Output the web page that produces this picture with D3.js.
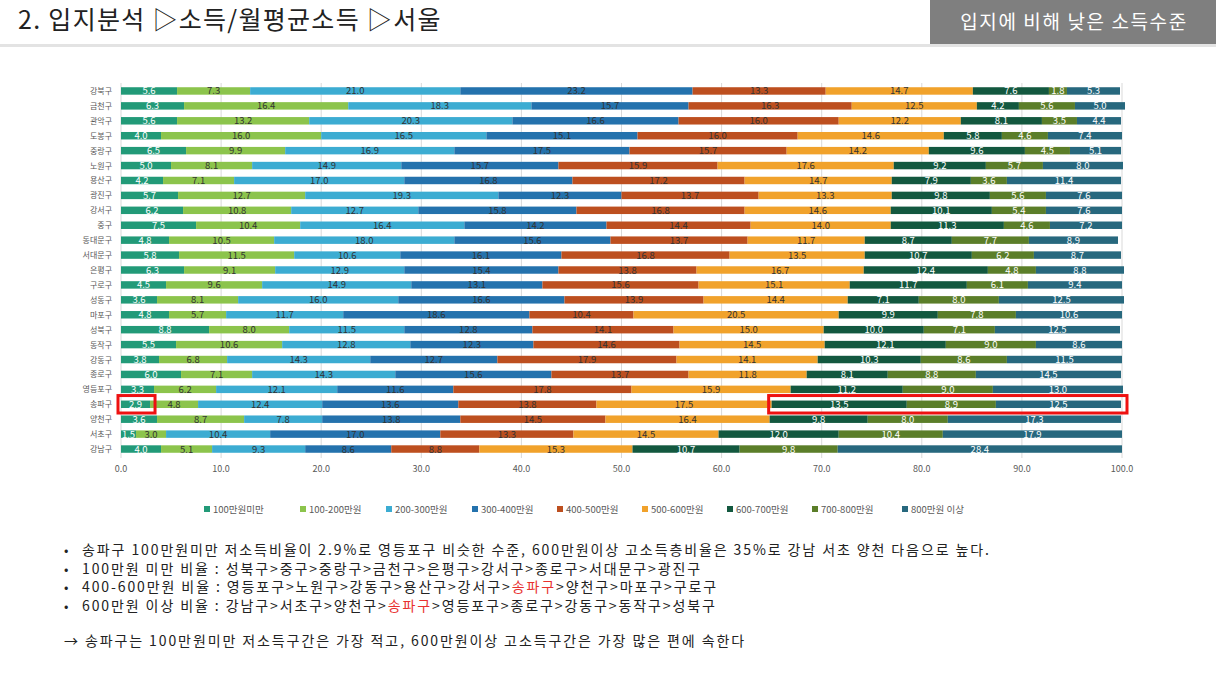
<!DOCTYPE html>
<html><head><meta charset="utf-8">
<script src="https://cdn.jsdelivr.net/npm/d3@7"></script>
<style>body{margin:0;background:#fff;font-family:"Noto Sans CJK KR","Noto Sans",sans-serif;}</style>
</head><body>
<svg id="c" width="1216" height="684"></svg>
<script>
const districts=["강북구","금천구","관악구","도봉구","중랑구","노원구","용산구","광진구","강서구","중구","동대문구","서대문구","은평구","구로구","성동구","마포구","성북구","동작구","강동구","종로구","영등포구","송파구","양천구","서초구","강남구"];
const seriesNames=["100만원미만","100-200만원","200-300만원","300-400만원","400-500만원","500-600만원","600-700만원","700-800만원","800만원 이상"];
const s100=[5.6,6.3,5.6,4.0,6.5,5.0,4.2,5.7,6.2,7.5,4.8,5.8,6.3,4.5,3.6,4.8,8.8,5.5,3.8,6.0,3.3,2.9,3.6,1.5,4.0];
const s200=[7.3,16.4,13.2,16.0,9.9,8.1,7.1,12.7,10.8,10.4,10.5,11.5,9.1,9.6,8.1,5.7,8.0,10.6,6.8,7.1,6.2,4.8,8.7,3.0,5.1];
const s300=[21.0,18.3,20.3,16.5,16.9,14.9,17.0,19.3,12.7,16.4,18.0,10.6,12.9,14.9,16.0,11.7,11.5,12.8,14.3,14.3,12.1,12.4,7.8,10.4,9.3];
const s400=[23.2,15.7,16.6,15.1,17.5,15.7,16.8,12.3,15.8,14.2,15.6,16.1,15.4,13.1,16.6,18.6,12.8,12.3,12.7,15.6,11.6,13.6,13.8,17.0,8.6];
const s500=[13.3,16.3,16.0,16.0,15.7,15.9,17.2,13.7,16.8,14.4,13.7,16.8,13.8,15.6,13.9,10.4,14.1,14.6,17.9,13.7,17.8,13.8,14.5,13.3,8.8];
const s600=[14.7,12.5,12.2,14.6,14.2,17.6,14.7,13.3,14.6,14.0,11.7,13.5,16.7,15.1,14.4,20.5,15.0,14.5,14.1,11.8,15.9,17.5,16.4,14.5,15.3];
const s700=[7.6,4.2,8.1,5.8,9.6,9.2,7.9,9.8,10.1,11.3,8.7,10.7,12.4,11.7,7.1,9.9,10.0,12.1,10.3,8.1,11.2,13.5,9.8,12.0,10.7];
const s800=[1.8,5.6,3.5,4.6,4.5,5.7,3.6,5.6,5.4,4.6,7.7,6.2,4.8,6.1,8.0,7.8,7.1,9.0,8.6,8.8,9.0,8.9,8.0,10.4,9.8];
const s900=[5.3,5.0,4.4,7.4,5.1,8.0,11.4,7.6,7.6,7.2,8.9,8.7,8.8,9.4,12.5,10.6,12.5,8.6,11.5,14.5,13.0,12.5,17.3,17.9,28.4];
const xTicks=[0,10,20,30,40,50,60,70,80,90,100];
const allSeries=[s100,s200,s300,s400,s500,s600,s700,s800,s900];
const colors=["#229a78","#8cc44c","#3cacd2","#2472ad","#bd4f1f","#f1a22b","#13583f","#5b7e29","#27687e"];
const labelCol=["#fff","#333","#333","#333","#333","#333","#fff","#fff","#fff"];

const svg=d3.select("#c");
svg.append("text").attr("x",18).attr("y",29).attr("font-size",25).attr("letter-spacing",1.3).attr("fill","#222").text("2. 입지분석 ▷소득/월평균소득 ▷서울");
svg.append("rect").attr("x",0).attr("y",44).attr("width",1216).attr("height",3).attr("fill","#e3e3e3");
svg.append("rect").attr("x",930).attr("y",0).attr("width",286).attr("height",44).attr("fill","#7f7f7f");
svg.append("text").attr("x",1074).attr("y",29).attr("text-anchor","middle").attr("font-size",19).attr("letter-spacing",1.6).attr("fill","#fff").text("입지에 비해 낮은 소득수준");

const x=d3.scaleLinear().domain([0,100]).range([121,1122]);
const y=d3.scaleBand().domain(districts).range([83.5,456.5]).paddingInner(0.5).paddingOuter(0.25);
svg.append("g").selectAll("line").data(xTicks).join("line")
 .attr("x1",d=>x(d)).attr("x2",d=>x(d)).attr("y1",83).attr("y2",458).attr("stroke","#d9d9d9");
svg.append("g").selectAll("text").data(xTicks).join("text")
 .attr("x",d=>x(d)).attr("y",472).attr("text-anchor","middle").attr("font-size",9).attr("fill","#595959").text(d=>d.toFixed(1));
svg.append("g").selectAll("text").data(districts).join("text")
 .attr("x",112).attr("y",d=>y(d)+y.bandwidth()/2+3).attr("text-anchor","end").attr("font-size",8).attr("fill","#595959").text(d=>d);

const stackData=districts.map((d,i)=>{const o={name:d};seriesNames.forEach((s,j)=>o[s]=allSeries[j][i]);return o;});
const stacked=d3.stack().keys(seriesNames)(stackData);
stacked.forEach((layer,j)=>{
 const g=svg.append("g");
 g.selectAll("rect").data(layer).join("rect")
  .attr("x",d=>x(d[0])).attr("width",d=>x(d[1])-x(d[0]))
  .attr("y",d=>y(d.data.name)).attr("height",y.bandwidth()).attr("fill",colors[j]);
 g.selectAll("text").data(layer).join("text")
  .attr("x",d=>(x(d[0])+x(d[1]))/2).attr("y",d=>y(d.data.name)+y.bandwidth()/2+3.5)
  .attr("text-anchor","middle").attr("font-size",9.5).attr("fill",labelCol[j]).text(d=>(d[1]-d[0]).toFixed(1));
});
const sp="송파구", spi=districts.indexOf(sp);
const spLayer=stacked.map(l=>l[spi]);
svg.append("rect").attr("x",x(0)-3).attr("y",y(sp)-5).attr("width",x(spLayer[0][1])-x(0)+8).attr("height",y.bandwidth()+10)
 .attr("fill","none").attr("stroke","#ee1111").attr("stroke-width",3);
svg.append("rect").attr("x",x(spLayer[6][0])-3).attr("y",y(sp)-5).attr("width",x(100)-x(spLayer[6][0])+8).attr("height",y.bandwidth()+10)
 .attr("fill","none").attr("stroke","#ee1111").attr("stroke-width",3);

const legX=[204,300,386,472,557,642,727,812,902];
const lg=svg.append("g");
seriesNames.forEach((s,j)=>{
 lg.append("rect").attr("x",legX[j]).attr("y",506).attr("width",6).attr("height",6).attr("fill",colors[j]);
 lg.append("text").attr("x",legX[j]+9).attr("y",513).attr("font-size",9.5).attr("fill","#595959").text(s);
});

const notes=[
 [["송파구 100만원미만 저소득비율이 2.9%로 영등포구 비슷한 수준, 600만원이상 고소득층비율은 35%로 강남 서초 양천 다음으로 높다.",0]],
 [["100만원 미만 비율 : 성북구>중구>중랑구>금천구>은평구>강서구>종로구>서대문구>광진구",0]],
 [["400-600만원 비율 : 영등포구>노원구>강동구>용산구>강서구>",0],["송파구",1],[">양천구>마포구>구로구",0]],
 [["600만원 이상 비율 : 강남구>서초구>양천구>",0],["송파구",1],[">영등포구>종로구>강동구>동작구>성북구",0]]
];
notes.forEach((parts,i)=>{
 const yy=555+i*18.5;
 svg.append("text").attr("x",64).attr("y",yy).attr("font-size",13).attr("fill","#222").text("•");
 const t=svg.append("text").attr("x",82).attr("y",yy).attr("font-size",14).attr("letter-spacing",1.9).attr("fill","#222");
 parts.forEach(p=>t.append("tspan").attr("fill",p[1]?"#e8312f":"#222").text(p[0]));
});
svg.append("text").attr("x",64).attr("y",646).attr("font-size",14).attr("letter-spacing",1.9).attr("fill","#222").text("→ 송파구는 100만원미만 저소득구간은 가장 적고, 600만원이상 고소득구간은 가장 많은 편에 속한다");
</script>
</body></html>
